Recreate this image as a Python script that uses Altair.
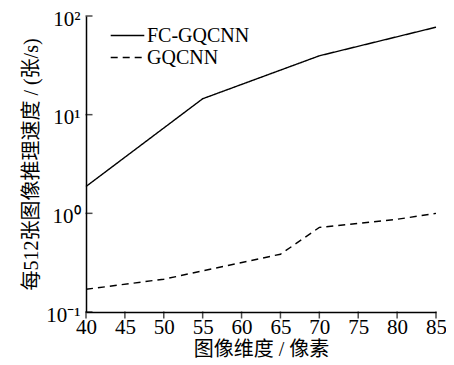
import altair as alt
import pandas as pd

fc_x = [40, 55, 70, 85]
fc_y = [1.87, 14.5, 39.5, 77.0]
gq_x = [40, 50, 65, 70, 80, 85]
gq_y = [0.17, 0.215, 0.385, 0.72, 0.87, 1.0]
series = ["FC-GQCNN", "GQCNN"]
x_ticks = [40, 45, 50, 55, 60, 65, 70, 75, 80, 85]
y_ticks = [0.1, 1, 10, 100]

df = pd.DataFrame(
    [{"x": a, "y": b, "s": series[0]} for a, b in zip(fc_x, fc_y)]
    + [{"x": a, "y": b, "s": series[1]} for a, b in zip(gq_x, gq_y)]
)
xt = pd.DataFrame({"x": x_ticks, "y": [0.1] * len(x_ticks)})
yt = pd.DataFrame({"x": [40] * len(y_ticks), "y": y_ticks})

serif = "Times New Roman, Liberation Serif, serif"
cjk = "Times New Roman, Liberation Serif, Noto Sans CJK SC, serif"

xs = alt.Scale(domain=[40, 85], nice=False, zero=False)
ys = alt.Scale(type="log", domain=[0.1, 100], nice=False)

xaxis = alt.Axis(values=x_ticks, title="图像维度 / 像素", grid=False,
                 tickSize=0, labelPadding=4, labelFontSize=21,
                 labelOverlap=False, labelFlush=False,
                 labelFont=serif, titleFont=cjk, titleFontSize=20,
                 titleFontWeight="normal", titlePadding=2,
                 domainColor="black", domainWidth=1.5,
                 labelColor="black", titleColor="black")
yaxis = alt.Axis(values=y_ticks, title="每512张图像推理速度 / (张/s)", grid=False,
                 tickSize=0, labelPadding=6, labelFontSize=21, labelOffset=3,
                 labelOverlap=False, labelFlush=False,
                 labelFont=serif, titleFont=cjk, titleFontSize=20,
                 titleFontWeight="normal", titlePadding=4,
                 labelExpr="datum.value == 100 ? '10²' : datum.value == 10 ? '10¹' : datum.value == 1 ? '10⁰' : '10⁻¹'",
                 domainColor="black", domainWidth=1.5,
                 labelColor="black", titleColor="black")

lines = alt.Chart(df).mark_line(color="black", strokeWidth=1.4).encode(
    x=alt.X("x:Q", scale=xs, axis=xaxis),
    y=alt.Y("y:Q", scale=ys, axis=yaxis),
    strokeDash=alt.StrokeDash("s:N",
        scale=alt.Scale(domain=series, range=[[1, 0], [7, 5]]),
        legend=alt.Legend(title=None, orient="none", legendX=30, legendY=8,
                          symbolType="M-1.6,0H1.6", symbolSize=441, symbolStrokeWidth=1.4,
                          symbolStrokeColor="black", labelFont=serif, labelFontSize=20,
                          labelColor="black", rowPadding=0, labelOffset=8)),
    detail="s:N",
)

xtick = alt.Chart(xt).mark_tick(color="black", orient="vertical", size=7, thickness=1.5, yOffset=3).encode(
    x=alt.X("x:Q", scale=xs, axis=xaxis), y=alt.Y("y:Q", scale=ys, axis=yaxis))
ytick = alt.Chart(yt).mark_tick(color="black", orient="horizontal", size=7, thickness=1.5, xOffset=3).encode(
    x=alt.X("x:Q", scale=xs, axis=xaxis), y=alt.Y("y:Q", scale=ys, axis=yaxis))

chart = alt.layer(lines, xtick, ytick).properties(
    width=350, height=296,
    autosize=alt.AutoSizeParams(type="none"),
    padding={"left": 78, "top": 8, "right": 10, "bottom": 49},
).configure(
    background="white", font=serif,
    style={"guide-label": {"font": serif}, "guide-title": {"font": cjk}},
).configure_view(stroke=None).configure_axis(
    labelFont=serif, titleFont=cjk
).configure_legend(labelFont=serif)

chart.save("out.html", embed_options={"renderer": "svg", "actions": False})
